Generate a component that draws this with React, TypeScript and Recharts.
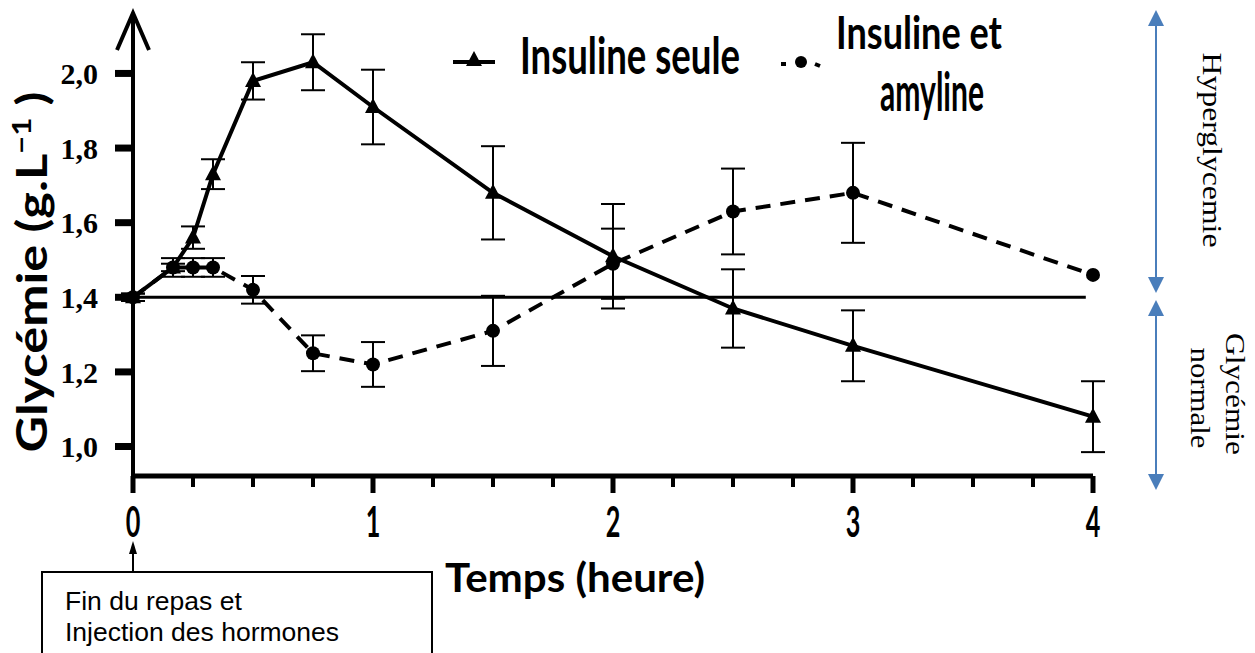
import React from "react";
import { LineChart, Line, XAxis, YAxis, ErrorBar, ReferenceLine } from "recharts";

// temps en heures après le repas
const temps = [0, 1 / 6, 0.25, 1 / 3, 0.5, 0.75, 1, 1.5, 2, 2.5, 3, 4];
const insulineSeule = [1.4, 1.48, 1.56, 1.73, 1.98, 2.03, 1.91, 1.68, 1.51, 1.37, 1.27, 1.08];
const insulineSeuleErr = [0.01, 0.01, 0.03, 0.04, 0.05, 0.075, 0.1, 0.125, 0.14, 0.105, 0.095, 0.095];
const insulineAmyline = [1.4, 1.48, 1.48, 1.48, 1.42, 1.25, 1.22, 1.31, 1.49, 1.63, 1.68, 1.46];
const insulineAmylineErr = [0.01, 0.025, 0.025, 0.025, 0.037, 0.048, 0.06, 0.094, 0.094, 0.115, 0.134, 0];
const xTicks = [0, 0.25, 0.5, 0.75, 1, 1.25, 1.5, 1.75, 2, 2.25, 2.5, 2.75, 3, 3.25, 3.5, 3.75, 4];
const yTicks = [1.0, 1.2, 1.4, 1.6, 1.8, 2.0];
const seuilNormal = 1.4;

const data = temps.map((t, i) => ({
  t,
  seule: insulineSeule[i],
  seuleErr: insulineSeuleErr[i],
  amyline: insulineAmyline[i],
  amylineErr: insulineAmylineErr[i]
}));

const BOLD = "Lato, 'Open Sans', sans-serif";
const BLUE = "#4A7EBB";

const triangleDot = (props: any) => {
  const { cx, cy, index } = props;
  if (cx == null || cy == null) return null;
  return (
    <polygon
      key={`tri-${index}`}
      points={`${cx},${cy - 9} ${cx - 8},${cy + 6} ${cx + 8},${cy + 6}`}
      fill="#000"
    />
  );
};

const circleDot = (props: any) => {
  const { cx, cy, index } = props;
  if (cx == null || cy == null) return null;
  return <circle key={`dot-${index}`} cx={cx} cy={cy} r={7} fill="#000" />;
};

const XTick = (props: any) => {
  const { x, y, payload } = props;
  const v = payload.value;
  const major = Number.isInteger(v);
  return (
    <g>
      <line x1={x} x2={x} y1={y} y2={y + (major ? 17 : 11)} stroke="#000" strokeWidth={major ? 5 : 4} />
      {major && (
        <text
          transform={`translate(${x},${y + 61}) scale(0.6,1)`}
          textAnchor="middle"
          fontFamily={BOLD}
          fontWeight={700}
          fontSize={42}
          fill="#000"
        >
          {v}
        </text>
      )}
    </g>
  );
};

export default function App() {
  return (
    <div style={{ position: "absolute", left: 0, top: 0, width: 1255, height: 653, background: "#fff" }}>
      <LineChart width={1255} height={653} data={data} margin={{ top: 13, right: 162, bottom: 117, left: 73 }}>
        <XAxis
          type="number"
          dataKey="t"
          domain={[0, 4]}
          ticks={xTicks}
          interval={0}
          tickSize={0}
          tickMargin={0}
          tickLine={false}
          axisLine={{ stroke: "#000", strokeWidth: 5 }}
          tick={<XTick />}
          height={60}
        />
        <YAxis
          type="number"
          domain={[0.921, 2.162]}
          ticks={yTicks}
          interval={0}
          width={60}
          axisLine={{ stroke: "#000", strokeWidth: 4 }}
          tickLine={{ stroke: "#000", strokeWidth: 7 }}
          tickSize={18}
          tickMargin={17}
          tickFormatter={(v: number) => v.toFixed(1).replace(".", ",")}
          tick={{ fill: "#000", fontSize: 30, fontFamily: "'Liberation Serif', serif", fontWeight: 700 }}
        />
        <ReferenceLine
          segment={[
            { x: 0, y: seuilNormal },
            { x: 3.97, y: seuilNormal }
          ]}
          stroke="#000"
          strokeWidth={3}
        />
        <Line
          type="linear"
          dataKey="amyline"
          stroke="#000"
          strokeWidth={4}
          strokeDasharray="15 10"
          dot={circleDot}
          activeDot={false}
          isAnimationActive={false}
        >
          <ErrorBar dataKey="amylineErr" direction="y" width={12} strokeWidth={2} stroke="#000" />
        </Line>
        <Line
          type="linear"
          dataKey="seule"
          stroke="#000"
          strokeWidth={4}
          dot={triangleDot}
          activeDot={false}
          isAnimationActive={false}
        >
          <ErrorBar dataKey="seuleErr" direction="y" width={12} strokeWidth={2} stroke="#000" />
        </Line>
      </LineChart>

      <svg
        width={1255}
        height={653}
        style={{ position: "absolute", left: 0, top: 0, pointerEvents: "none" }}
      >
        {/* flèche de l'axe des ordonnées */}
        <polyline points="117,50 133,13 149,50" fill="none" stroke="#000" strokeWidth={4} />

        {/* titre de l'axe Y */}
        <text
          transform="translate(47,272) rotate(-90)"
          textAnchor="middle"
          fontFamily={BOLD}
          fontWeight={700}
          fontSize={42}
          fill="#000"
          textLength={361}
          lengthAdjust="spacingAndGlyphs"
        >
          Glycémie (g.L<tspan fontSize={26} dy={-16}>−1</tspan>
          <tspan dy={16}> )</tspan>
        </text>

        {/* titre de l'axe X */}
        <text
          x={445}
          y={592}
          fontFamily={BOLD}
          fontWeight={700}
          fontSize={40}
          fill="#000"
          textLength={260}
          lengthAdjust="spacingAndGlyphs"
        >
          Temps (heure)
        </text>

        {/* légende */}
        <line x1={453} x2={495} y1={62} y2={62} stroke="#000" strokeWidth={4} />
        <polygon points="474,51 466,66 482,66" fill="#000" />
        <text
          x={520}
          y={74}
          fontFamily={BOLD}
          fontWeight={700}
          fontSize={52}
          fill="#000"
          textLength={220}
          lengthAdjust="spacingAndGlyphs"
        >
          Insuline seule
        </text>
        <line x1={781} x2={786} y1={64} y2={64} stroke="#000" strokeWidth={4} />
        <circle cx={801} cy={62} r={6} fill="#000" />
        <line x1={815} x2={820} y1={64} y2={66} stroke="#000" strokeWidth={4} />
        <text
          x={836}
          y={49}
          fontFamily={BOLD}
          fontWeight={700}
          fontSize={46}
          fill="#000"
          textLength={166}
          lengthAdjust="spacingAndGlyphs"
        >
          Insuline et
        </text>
        <text
          x={880}
          y={111}
          fontFamily={BOLD}
          fontWeight={700}
          fontSize={54}
          fill="#000"
          textLength={104}
          lengthAdjust="spacingAndGlyphs"
        >
          amyline
        </text>

        {/* encadré */}
        <line x1={133} x2={133} y1={572} y2={552} stroke="#000" strokeWidth={2} />
        <polygon points="133,541 129,554 137,554" fill="#000" />
        <rect x={42} y={572} width={390} height={100} fill="#fff" stroke="#000" strokeWidth={2} />
        <text x={65} y={610} fontFamily="'Liberation Sans', Arial, sans-serif" fontSize={26.5} fill="#000">
          Fin du repas et
        </text>
        <text x={65} y={641} fontFamily="'Liberation Sans', Arial, sans-serif" fontSize={26.5} fill="#000">
          Injection des hormones
        </text>

        {/* zones à droite */}
        <line x1={1156} x2={1156} y1={24} y2={279} stroke={BLUE} strokeWidth={2} />
        <polygon points="1156,10 1148,26 1164,26" fill={BLUE} />
        <polygon points="1156,293 1148,277 1164,277" fill={BLUE} />
        <line x1={1156} x2={1156} y1={314} y2={476} stroke={BLUE} strokeWidth={2} />
        <polygon points="1156,300 1148,316 1164,316" fill={BLUE} />
        <polygon points="1156,490 1148,474 1164,474" fill={BLUE} />

        <text
          transform="translate(1203,150) rotate(90)"
          textAnchor="middle"
          fontFamily="'Liberation Serif', 'Times New Roman', serif"
          fontSize={27}
          fill="#000"
          textLength={195}
          lengthAdjust="spacingAndGlyphs"
        >
          Hyperglycemie
        </text>
        <text
          transform="translate(1226,394) rotate(90)"
          textAnchor="middle"
          fontFamily="'Liberation Serif', 'Times New Roman', serif"
          fontSize={27}
          fill="#000"
          textLength={122}
          lengthAdjust="spacingAndGlyphs"
        >
          Glycémie
        </text>
        <text
          transform="translate(1191,398) rotate(90)"
          textAnchor="middle"
          fontFamily="'Liberation Serif', 'Times New Roman', serif"
          fontSize={27}
          fill="#000"
          textLength={101}
          lengthAdjust="spacingAndGlyphs"
        >
          normale
        </text>
      </svg>
    </div>
  );
}
